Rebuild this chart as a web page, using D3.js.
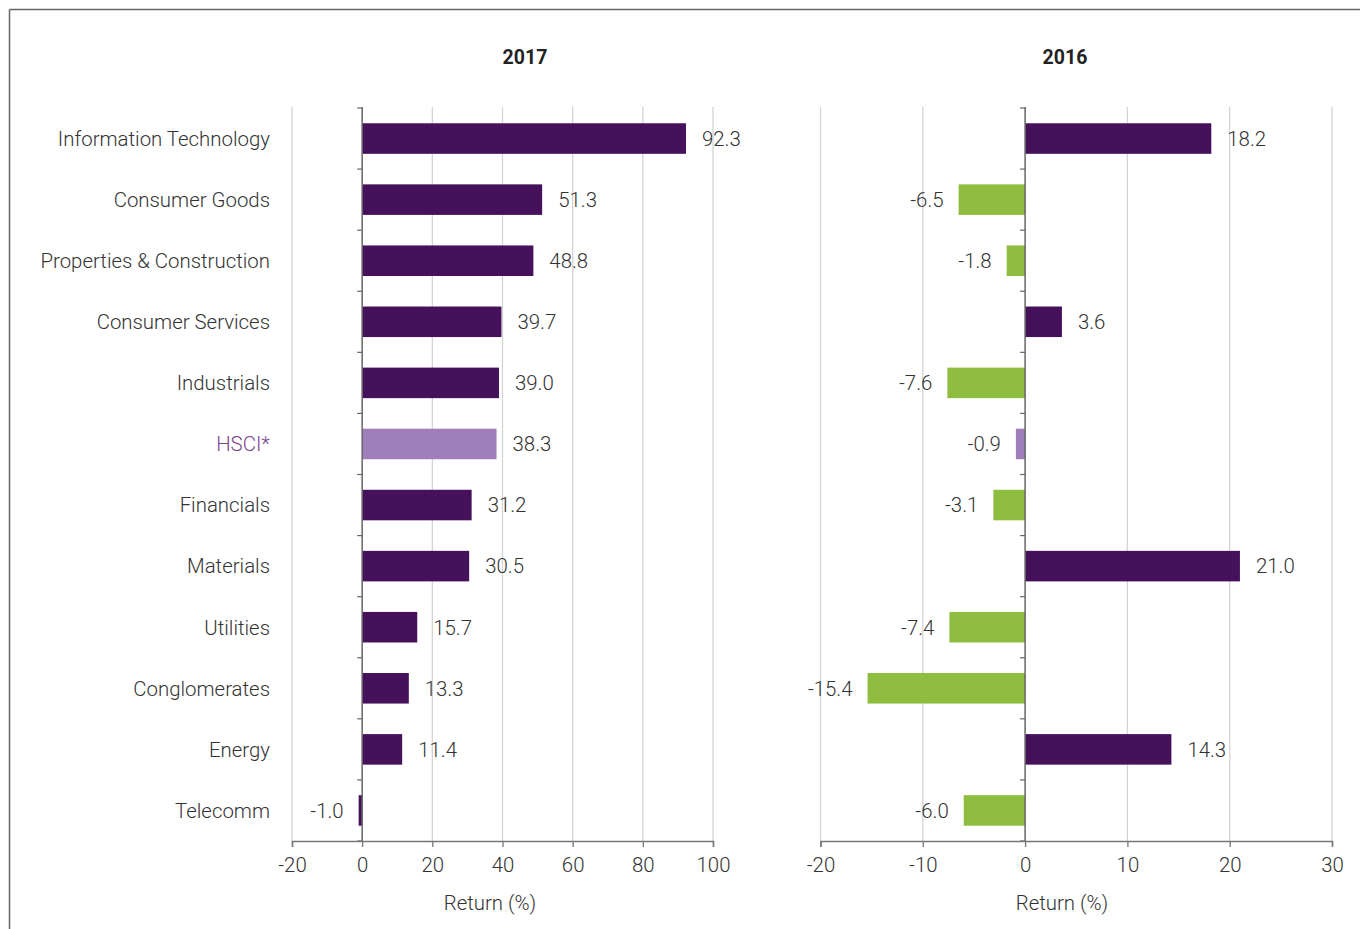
<!DOCTYPE html>
<html><head><meta charset="utf-8">
<script src="https://cdn.jsdelivr.net/npm/d3@7"></script>
<style>
body{margin:0;background:#fff;}
text{font-family:Roboto, "DejaVu Sans", sans-serif;}
</style></head>
<body>
<svg id="c" width="1360" height="929"></svg>
<script>
const categories = ["Information Technology","Consumer Goods","Properties & Construction","Consumer Services","Industrials","HSCI*","Financials","Materials","Utilities","Conglomerates","Energy","Telecomm"];
const values2017 = [92.3,51.3,48.8,39.7,39.0,38.3,31.2,30.5,15.7,13.3,11.4,-1.0];
const values2016 = [18.2,-6.5,-1.8,3.6,-7.6,-0.9,-3.1,21.0,-7.4,-15.4,14.3,-6.0];
const ticks2017 = [-20,0,20,40,60,80,100];
const ticks2016 = [-20,-10,0,10,20,30];
const panelTitles = ["2017","2016"];
const axisTitle = "Return (%)";

const C_DARK = "#45115a", C_LIGHT = "#9e7fba", C_GREEN = "#8fbd3f", C_TEXT = "#333333";
const FS = 20.4;
const svg = d3.select("#c");

svg.append("line").attr("x1",9.5).attr("x2",1360).attr("y1",9.5).attr("y2",9.5).attr("stroke","#666").attr("stroke-width",1.5);
svg.append("line").attr("x1",9.5).attr("x2",9.5).attr("y1",9.5).attr("y2",929).attr("stroke","#666").attr("stroke-width",1.5);

const y = d3.scaleBand().domain(categories).range([108,841]).paddingInner(0.5).paddingOuter(0.25);

function panel(opts){
  const {vals, domain, range, ticks, title, titleX, axisTitleX, colorFn, showCats} = opts;
  const x = d3.scaleLinear().domain(domain).range(range);
  const g = svg.append("g");
  g.selectAll(".grid").data(ticks.filter(t=>t!==0)).join("line")
    .attr("x1",d=>x(d)).attr("x2",d=>x(d)).attr("y1",107).attr("y2",841)
    .attr("stroke","#d4d4d4").attr("stroke-width",1.3);
  g.selectAll(".bar").data(vals).join("rect")
    .attr("x",d=>Math.min(x(0),x(d))).attr("width",d=>Math.abs(x(d)-x(0)))
    .attr("y",(d,i)=>y(categories[i])).attr("height",y.bandwidth())
    .attr("fill",(d,i)=>colorFn(d,i));
  g.selectAll(".val").data(vals).join("text")
    .attr("x",d=> d>=0 ? x(d)+16 : x(d)-15)
    .attr("y",(d,i)=>y(categories[i])+y.bandwidth()/2)
    .attr("dy","0.36em")
    .attr("text-anchor",d=>d>=0?"start":"end")
    .style("font-size",FS+"px").style("font-weight",300).attr("fill",C_TEXT)
    .text(d=>d.toFixed(1));
  const x0 = x(0);
  g.append("line").attr("x1",x0).attr("x2",x0).attr("y1",107).attr("y2",841).attr("stroke","#666").attr("stroke-width",1.5);
  const bounds = d3.range(categories.length+1).map(i=>108 + i*y.step());
  g.selectAll(".ct").data(bounds).join("line")
    .attr("x1",x0-5).attr("x2",x0).attr("y1",d=>d).attr("y2",d=>d)
    .attr("stroke","#666").attr("stroke-width",1.2);
  const ax = g.append("g").attr("transform","translate(0,841)")
    .call(d3.axisBottom(x).tickValues(ticks).tickSize(6).tickPadding(11).tickFormat(d=>String(d)));
  ax.select(".domain").attr("stroke","#777").attr("stroke-width",1.5);
  ax.selectAll(".tick line").attr("stroke","#777").attr("stroke-width",1.3);
  ax.selectAll("text").style("font-size",FS+"px").attr("fill",C_TEXT).style("font-family","Roboto, sans-serif").style("font-weight",300);
  g.append("text").attr("x",titleX).attr("y",64).attr("text-anchor","middle")
    .style("font-size","19.5px").style("font-weight",700).attr("fill","#222").text(title);
  g.append("text").attr("x",axisTitleX).attr("y",910).attr("text-anchor","middle")
    .style("font-size",FS+"px").style("font-weight",300).attr("fill",C_TEXT).text(axisTitle);
  if(showCats){
    g.selectAll(".cat").data(categories).join("text")
      .attr("x",270).attr("y",d=>y(d)+y.bandwidth()/2).attr("dy","0.36em")
      .attr("text-anchor","end").style("font-size",FS+"px").style("font-weight",300)
      .attr("fill",d=>d==="HSCI*"?"#7b3f8f":C_TEXT).text(d=>d);
  }
}

panel({vals:values2017, domain:[-20,100], range:[292,713], ticks:ticks2017, title:panelTitles[0], titleX:525, axisTitleX:490,
  colorFn:(d,i)=>categories[i]==="HSCI*"?C_LIGHT:C_DARK, showCats:true});
panel({vals:values2016, domain:[-20,30], range:[820.5,1332], ticks:ticks2016, title:panelTitles[1], titleX:1065, axisTitleX:1062,
  colorFn:(d,i)=>categories[i]==="HSCI*"?C_LIGHT:(d>=0?C_DARK:C_GREEN), showCats:false});
</script>
</body></html>
